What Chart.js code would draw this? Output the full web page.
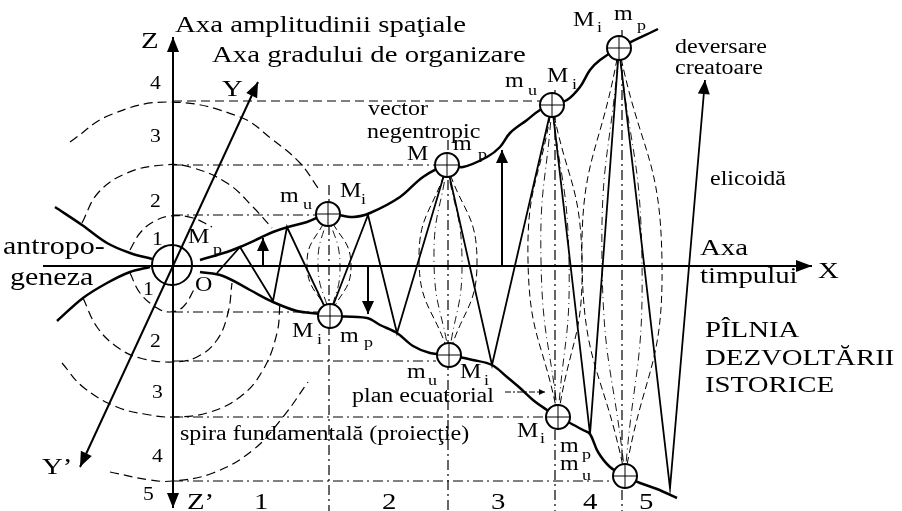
<!DOCTYPE html>
<html>
<head>
<meta charset="utf-8">
<script src="https://cdn.jsdelivr.net/npm/chart.js@4.4.0/dist/chart.umd.min.js"></script>
<style>
  html, body { margin: 0; padding: 0; background: #fff; }
  #wrap { width: 902px; height: 511px; }
</style>
</head>
<body>
<div id="wrap"><canvas id="myChart"></canvas></div>
<script>
// units: origin where the time axis crosses the Z axis, 1 unit = a tenth of a grid step
const upperLeft = [[-11.8,5.9],[-9.1,4.1],[-6.6,2.3],[-4.3,1.3],[-2.1,0.7]];
const lowerLeft = [[-11.6,-5.5],[-9.0,-3.2],[-6.6,-1.7],[-4.3,-0.6],[-2.3,-0.1]];
const upperRight = [[2.7,0.6],[5.4,1.4],[6.7,1.9],[8.7,2.8],[10.0,3.4],[11.5,3.9],[13.4,4.4],[15.6,5.2],
  [18.0,4.9],[19.7,5.3],[22.7,6.9],[25.0,8.9],[27.4,10.1],[29.0,9.9],[31.4,10.9],[32.7,11.9],[33.7,13.3],
  [35.4,14.6],[36.7,15.6],[37.9,16.1],[39.4,16.6],[40.7,17.9],[41.7,19.6],[42.7,20.6],[44.6,21.8],[48.5,23.7]];
const lowerRight = [[2.7,-0.6],[5.0,-1.0],[7.7,-2.4],[10.0,-3.6],[12.4,-4.5],[14.7,-4.8],[15.7,-5.0],
  [19.4,-5.2],[20.7,-5.9],[22.4,-6.7],[24.0,-8.0],[25.7,-8.7],[27.6,-8.9],[30.0,-9.4],[31.9,-9.9],
  [33.4,-11.1],[34.7,-12.2],[36.0,-13.4],[37.4,-14.4],[38.5,-15.1],[39.7,-15.7],[41.0,-16.4],[41.7,-16.8],
  [42.5,-18.6],[43.7,-20.1],[45.2,-21.0],[46.7,-21.7],[48.4,-22.3],[50.4,-23.2]];
const zigzag = [[4.4,-0.7],[6.7,1.9],[10.0,-3.5],[11.4,3.9],[15.6,-5.0],[19.5,5.1],[22.4,-6.7],[27.4,10.1],
  [31.9,-9.9],[37.9,16.1],[41.7,-16.8],[44.6,21.8],[49.7,-22.2],[53.2,18.6]];

const upperNodes = [[15.5,5.2],[27.4,10.1],[37.9,16.1],[44.6,21.8]];
const lowerNodes = [[15.7,-5.0],[27.6,-8.9],[38.5,-15.1],[45.2,-21.0]];
const lensOuter = [2.2, 2.9, 2.7, 4.0];
const lensInner = [1.1, 1.4, 1.4, 2.0];
const dividerX = [15.6, 27.5, 38.2, 44.9];
const dividerTop = [8.1, 12.6, 17.6, 23.6];

const levelY = [16.5, 10.1, 5.1, -4.6, -9.5, -15.1, -21.5];
const levelEnd = [36.7, 26.2, 14.3, 14.5, 26.3, 37.2, 43.9];

const spiralArcs = [
  [[-4.3,1.6],[-3.3,3.3],[-2.0,4.4],[-0.3,5.0],[2.0,4.8],[3.9,3.9]],
  [[-9.1,4.3],[-7.5,7.3],[-4.6,9.3],[-1.0,10.1],[1.7,9.9],[5.4,8.3],[8.0,5.9],[9.9,3.8]],
  [[-10.3,12.4],[-6.3,15.1],[-0.3,16.4],[6.7,14.9],[10.0,12.6],[12.7,10.3],[14.5,7.8]],
  [[-4.3,-0.7],[-3.3,-2.7],[-1.6,-4.2],[-0.3,-4.6],[1.0,-4.1],[2.2,-2.2]],
  [[-9.0,-3.2],[-7.6,-6.1],[-5.6,-8.1],[-3.3,-9.2],[0,-9.6],[2.4,-9.1],[4.4,-7.4],[5.5,-4.7],[5.9,-1.7]],
  [[-11.1,-9.7],[-9.0,-12.1],[-5.6,-14.1],[-2.3,-14.9],[0,-15.1],[3.4,-14.7],[6.7,-13.1],[9.0,-10.4],[10.4,-6.7],[10.7,-3.7]],
  [[-6.3,-20.6],[-2.3,-21.4],[0,-21.5],[4.0,-20.7],[8.0,-18.4],[11.0,-15.1],[13.5,-11.6]]
];

const axisX = [[-13.0,0],[63.9,0]];
const axisZ = [[0,-24.2],[0,22.9]];
const axisY = [[-9.3,-20.1],[8.5,18.4]];
const pushArrows = [
  [[9.0,0],[9.0,2.8]],
  [[19.5,0],[19.5,-4.8]],
  [[32.9,0],[32.9,11.6]]
];
const planPointer = [[33.2,-12.6],[37.2,-12.6]];
const origin = [[-0.1,0.1]];

// annotations: text, x, baseline y, font size
const notes = [
  ['Axa amplitudinii spaţiale', 0.2, 23.4, 24], ['Axa gradului de organizare', 3.9, 20.4, 24],
  ['Z', -3.2, 21.8, 24], ['Y', 4.9, 17.0, 24], ['Y’', -13.1, -20.8, 24], ['Z’', 1.4, -24.3, 24],
  ['4', -2.3, 17.7, 18], ['3', -2.3, 12.4, 18], ['2', -2.3, 5.9, 18], ['1', -2.1, 2.1, 18],
  ['1', -3.0, -2.9, 18], ['2', -2.3, -8.1, 18], ['3', -2.1, -13.2, 18], ['4', -2.1, -19.6, 18], ['5', -3.0, -23.4, 18],
  ['antropo-', -17.0, 1.2, 25], ['geneza', -16.3, -1.9, 25],
  ['M', 1.5, 2.3, 20], ['p', 4.0, 1.2, 15], ['O', 2.2, -2.5, 20],
  ['m', 10.7, 6.4, 20], ['u', 13.0, 5.7, 15], ['M', 16.7, 6.9, 20], ['i', 18.8, 6.2, 15],
  ['M', 11.9, -7.1, 20], ['i', 14.4, -7.8, 15], ['m', 16.7, -7.6, 20], ['p', 19.1, -8.1, 15],
  ['M', 23.4, 10.6, 20], ['m', 28.0, 11.6, 20], ['p', 30.5, 10.7, 15],
  ['vector', 19.5, 15.1, 20], ['negentropic', 19.4, 12.8, 20],
  ['m', 33.2, 17.9, 20], ['u', 35.5, 17.1, 15], ['M', 37.4, 18.4, 20], ['i', 39.9, 17.7, 15],
  ['M', 40.0, 24.0, 20], ['i', 42.4, 23.4, 15], ['m', 44.1, 24.6, 20], ['p', 46.4, 23.6, 15],
  ['deversare', 50.2, 21.3, 20], ['creatoare', 50.2, 19.2, 20], ['elicoidă', 53.7, 8.1, 20],
  ['Axa', 52.7, 1.1, 24], ['timpului', 52.7, -1.7, 24], ['X', 64.5, -1.2, 24],
  ['PÎLNIA', 53.2, -7.1, 24], ['DEZVOLTĂRII', 53.2, -9.9, 24], ['ISTORICE', 53.2, -12.6, 24],
  ['m', 23.4, -11.2, 20], ['u', 25.5, -11.9, 15], ['M', 28.7, -11.2, 20], ['i', 31.1, -11.9, 15],
  ['plan ecuatorial', 17.9, -13.6, 20], ['spira fundamentală (proiecţie)', 0.7, -17.4, 20],
  ['M', 34.4, -17.1, 20], ['i', 36.7, -17.7, 15], ['m', 38.7, -18.6, 20], ['p', 40.9, -19.3, 15],
  ['m', 38.7, -20.4, 20], ['u', 40.9, -21.4, 15],
  ['1', 8.1, -24.3, 24], ['2', 20.9, -24.3, 24], ['3', 31.8, -24.3, 24], ['4', 41.0, -24.3, 24], ['5', 46.6, -24.3, 24]
];

const xMin = -17.3, xMax = 72.9, yMin = -24.5, yMax = 26.6;
const DASH = [9, 5], DASHDOT = [10, 4, 2, 4];

const pts = a => a.map(([x, y]) => ({x, y}));
const line = (data, opts = {}) => Object.assign({
  data: pts(data), showLine: true, pointRadius: 0, borderColor: '#000',
  borderWidth: 1, tension: 0, fill: false, order: 5
}, opts);

const datasets = [];
// funnel walls
[upperLeft, lowerLeft, upperRight, lowerRight].forEach(c =>
  datasets.push(line(c, {borderWidth: 2.5, tension: 0.35, order: 3})));
datasets.push(line(zigzag, {borderWidth: 1.8, order: 4, arrow: 'end', arrowLen: 14, arrowWid: 6}));
// axes
datasets.push(line(axisX, {borderWidth: 2, arrow: 'end', arrowLen: 16, arrowWid: 6}));
datasets.push(line(axisZ, {borderWidth: 2, arrow: 'both', arrowLen: 15, arrowWid: 6}));
datasets.push(line(axisY, {borderWidth: 2, arrow: 'both', arrowLen: 15, arrowWid: 6}));
pushArrows.forEach(a => datasets.push(line(a, {borderWidth: 2, arrow: 'end', arrowLen: 13, arrowWid: 6})));
datasets.push(line(planPointer, {borderWidth: 1, borderDash: [6, 2, 2, 2], arrow: 'end', arrowLen: 6, arrowWid: 3}));
// levels and dividers
levelY.forEach((v, i) => datasets.push(line([[0, v], [levelEnd[i], v]],
  {borderWidth: 1.2, borderDash: i === 0 ? DASH : DASHDOT, order: 6})));
dividerX.forEach((v, i) => datasets.push(line([[v, dividerTop[i]], [v, yMin]],
  {borderWidth: 1.2, borderDash: DASHDOT, order: 6})));
spiralArcs.forEach(a => datasets.push(line(a, {borderWidth: 1.2, borderDash: DASH, tension: 0.4, order: 6})));
// lenses between paired nodes
upperNodes.forEach((top, i) => {
  const bot = lowerNodes[i], midY = (top[1] + bot[1]) / 2, midX = (top[0] + bot[0]) / 2;
  [-1, 1].forEach(s => {
    datasets.push(line([top, [midX + s * lensOuter[i], midY], bot], {borderWidth: 1, borderDash: [7, 4], tension: 0.5, order: 6}));
    datasets.push(line([top, [midX + s * lensInner[i], midY], bot], {borderWidth: 0.9, borderDash: [8, 4, 1, 4], tension: 0.5, order: 6}));
  });
});
// nodes
const nodes = upperNodes.concat(lowerNodes);
datasets.push({data: pts(nodes), showLine: false, pointStyle: 'circle', pointRadius: 12,
  pointBackgroundColor: '#fff', pointBorderColor: '#000', pointBorderWidth: 2, order: 1});
datasets.push({data: pts(nodes), showLine: false, pointStyle: 'cross', pointRadius: 12,
  pointBorderColor: '#000', pointBorderWidth: 1, order: 0});
datasets.push({data: pts(origin), showLine: false, pointStyle: 'circle', pointRadius: 20,
  pointBackgroundColor: 'rgba(0,0,0,0)', pointBorderColor: '#000', pointBorderWidth: 2, order: 1});

const whiteBg = {
  id: 'whiteBg',
  beforeDraw(chart) {
    const ctx = chart.ctx;
    ctx.save();
    ctx.fillStyle = '#fff';
    ctx.fillRect(0, 0, chart.width, chart.height);
    ctx.restore();
  }
};

const arrowHeads = {
  id: 'arrowHeads',
  afterDatasetsDraw(chart) {
    const ctx = chart.ctx;
    ctx.save();
    ctx.fillStyle = '#000';
    chart.data.datasets.forEach((ds, i) => {
      if (!ds.arrow) return;
      const p = chart.getDatasetMeta(i).data;
      const head = (tip, from) => {
        const a = Math.atan2(tip.y - from.y, tip.x - from.x), L = ds.arrowLen, W = ds.arrowWid;
        const bx = tip.x - L * Math.cos(a), by = tip.y - L * Math.sin(a);
        ctx.beginPath();
        ctx.moveTo(tip.x, tip.y);
        ctx.lineTo(bx + W * Math.sin(a), by - W * Math.cos(a));
        ctx.lineTo(bx - W * Math.sin(a), by + W * Math.cos(a));
        ctx.closePath();
        ctx.fill();
      };
      head(p[p.length - 1], p[p.length - 2]);
      if (ds.arrow === 'both') head(p[0], p[1]);
    });
    ctx.restore();
  }
};

const notesPlugin = {
  id: 'notes',
  afterDraw(chart) {
    const {ctx, scales: {x, y}} = chart;
    ctx.save();
    ctx.fillStyle = '#000';
    ctx.textBaseline = 'alphabetic';
    ctx.textAlign = 'left';
    notes.forEach(([t, nx, ny, size]) => {
      ctx.save();
      ctx.translate(x.getPixelForValue(nx), y.getPixelForValue(ny));
      ctx.scale(1.2, 1);
      ctx.font = size + 'px "Liberation Serif", "Times New Roman", serif';
      ctx.fillText(t, 0, 0);
      ctx.restore();
    });
    ctx.restore();
  }
};

new Chart(document.getElementById('myChart'), {
  type: 'scatter',
  data: {datasets},
  options: {
    responsive: true,
    maintainAspectRatio: false,
    animation: false,
    events: [],
    layout: {padding: 0, autoPadding: false},
    scales: {
      x: {type: 'linear', min: xMin, max: xMax, display: false},
      y: {type: 'linear', min: yMin, max: yMax, display: false}
    },
    plugins: {legend: {display: false}, tooltip: {enabled: false}}
  },
  plugins: [whiteBg, arrowHeads, notesPlugin]
});
</script>
</body>
</html>
